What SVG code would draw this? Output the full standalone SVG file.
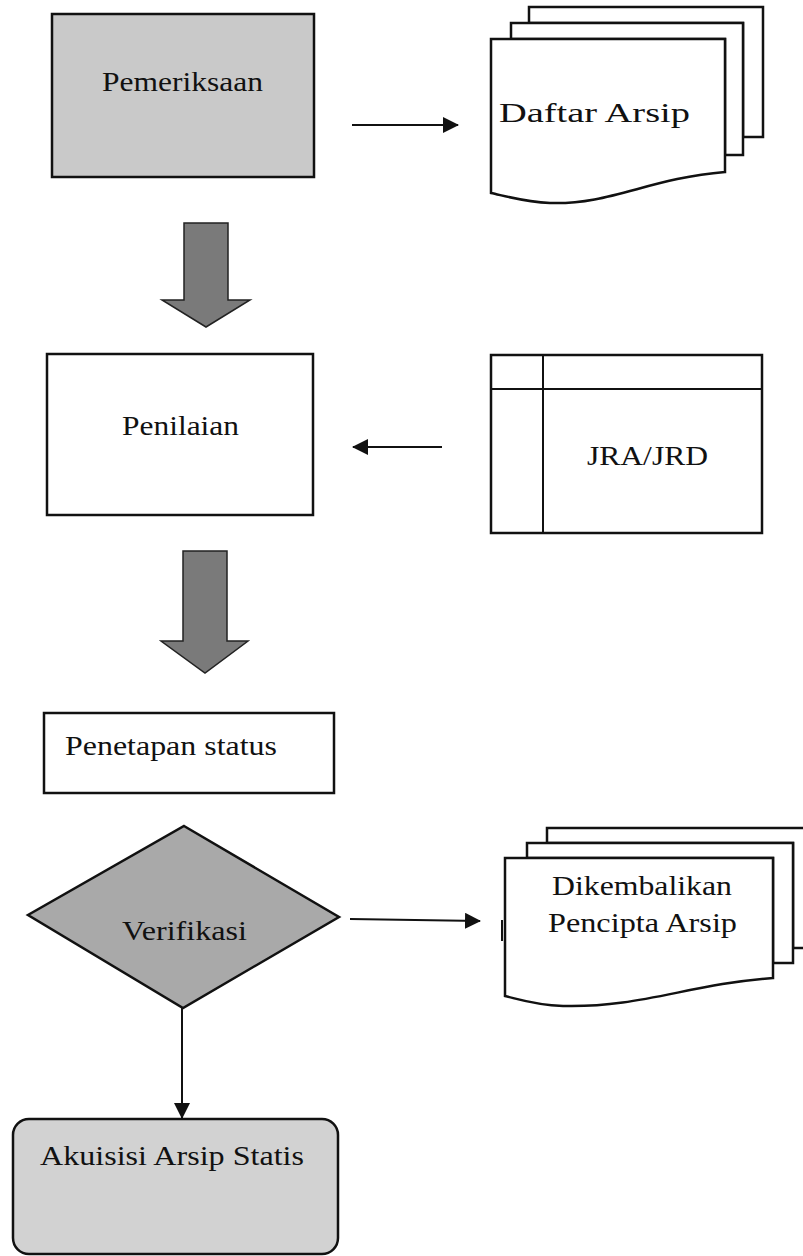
<svg xmlns="http://www.w3.org/2000/svg" width="803" height="1256" viewBox="0 0 803 1256">
<defs>
<style>
.ln{fill:none;stroke:#111;stroke-width:2}
.box{stroke:#111;stroke-width:2.5}
.pg{fill:#fff;stroke:#111;stroke-width:2.5}
text{font-family:'Liberation Serif','DejaVu Serif',serif;font-size:27px;fill:#111;text-anchor:middle}
.blk{fill:#7a7a7a;stroke:#222;stroke-width:1.5}
</style>
<marker id="ah" viewBox="0 0 16 16" refX="15" refY="8" markerWidth="16" markerHeight="16" markerUnits="userSpaceOnUse" orient="auto">
<path d="M0,0 L16,8 L0,16 Z" fill="#111"/>
</marker>
</defs>
<rect width="803" height="1256" fill="#fff"/>

<g id="pemeriksaan">
<rect class="box" x="52" y="14" width="262" height="163" fill="#c9c9c9"/>
<text x="182.5" y="91" textLength="161" lengthAdjust="spacingAndGlyphs">Pemeriksaan</text>
</g>

<g id="daftar-arsip">
<path class="pg" d="M529,7 L763,7 L763,137 L743,137 L743,23 L529,23 Z"/>
<path class="pg" d="M511,23 L743,23 L743,155 L725,155 L725,39 L511,39 Z"/>
<path class="pg" d="M491,39 L725,39 L725,172 C650,178 610,205 550,203 C525,202 505,196 491,193 Z"/>
<text x="594.5" y="122" textLength="191" lengthAdjust="spacingAndGlyphs">Daftar Arsip</text>
</g>

<g id="penilaian">
<rect class="box" x="47" y="354" width="266" height="161" fill="#fff"/>
<text x="180.5" y="435" textLength="117" lengthAdjust="spacingAndGlyphs">Penilaian</text>
</g>

<g id="jra-jrd">
<rect class="box" x="491" y="355" width="271" height="178" fill="#fff"/>
<line class="ln" x1="491" y1="389" x2="762" y2="389"/>
<line class="ln" x1="543" y1="355" x2="543" y2="533"/>
<text x="647.5" y="465" textLength="121" lengthAdjust="spacingAndGlyphs">JRA/JRD</text>
</g>

<g id="penetapan-status">
<rect class="box" x="44" y="713" width="290" height="80" fill="#fff"/>
<text x="171" y="755" textLength="212" lengthAdjust="spacingAndGlyphs">Penetapan status</text>
</g>

<g id="verifikasi">
<path class="box" d="M184,826 L339,917 L183,1008 L28,915 Z" fill="#a9a9a9"/>
<text x="184.5" y="940" textLength="125" lengthAdjust="spacingAndGlyphs">Verifikasi</text>
</g>

<g id="dikembalikan">
<path class="pg" d="M547,828 L805,828 L805,948 L793,948 L793,843 L547,843 Z"/>
<path class="pg" d="M527,843 L793,843 L793,963 L773,963 L773,858 L527,858 Z"/>
<path class="pg" d="M505,858 L773,858 L773,978 C690,984 640,1008 563,1006 C535,1005 518,999 505,996 Z"/>
<line class="ln" x1="502" y1="920" x2="502" y2="941"/>
<text x="642" y="895" textLength="180" lengthAdjust="spacingAndGlyphs">Dikembalikan</text>
<text x="642.5" y="932" textLength="189" lengthAdjust="spacingAndGlyphs">Pencipta Arsip</text>
</g>

<g id="akuisisi">
<rect class="box" x="13" y="1119" width="325" height="135" rx="16" fill="#d2d2d2"/>
<text x="172" y="1165" textLength="264" lengthAdjust="spacingAndGlyphs">Akuisisi Arsip Statis</text>
</g>

<g id="connectors">
<line class="ln" x1="352" y1="125" x2="458" y2="125" marker-end="url(#ah)"/>
<line class="ln" x1="442" y1="447" x2="353" y2="447" marker-end="url(#ah)"/>
<line class="ln" x1="350" y1="919" x2="480" y2="921" marker-end="url(#ah)"/>
<line class="ln" x1="182" y1="1008" x2="182" y2="1118" marker-end="url(#ah)"/>
<path class="blk" d="M184,223 L228,223 L228,300 L250,300 L206,327 L162,300 L184,300 Z"/>
<path class="blk" d="M183,551 L227,551 L227,641 L248,641 L205,673 L161,641 L183,641 Z"/>
</g>
</svg>
